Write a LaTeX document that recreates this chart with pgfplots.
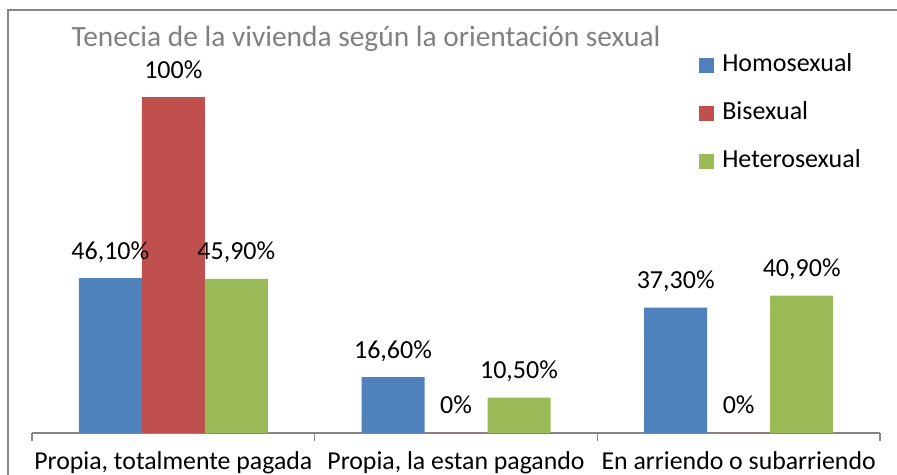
\documentclass[border=0pt]{standalone}
\usepackage{pgfplots}
\pgfplotsset{compat=1.18}
\usepackage{fontspec}
\setmainfont{Carlito}
\definecolor{cblue}{HTML}{4F81BD}
\definecolor{cred}{HTML}{C0504D}
\definecolor{cgreen}{HTML}{9BBB59}
\definecolor{frame}{HTML}{868686}
\definecolor{titlegray}{HTML}{808080}
\begin{document}
\begin{tikzpicture}[x=1bp,y=1bp]
\useasboundingbox (0,0) rectangle (897,475);
\draw[frame, line width=1.5bp] (8,-30) -- (8,465) -- (930,465);
\node[anchor=base, text=titlegray, font=\fontsize{29.4bp}{34bp}\selectfont, inner sep=0pt] at (366,428) {Tenecia de la vivienda según la orientación sexual};
\begin{axis}[
  at={(32bp,42bp)}, anchor=south west,
  scale only axis, width=848bp, height=403bp,
  xmin=-0.5, xmax=2.5, ymin=0, ymax=120,
  ybar=0pt, bar width=63bp,
  axis x line*=bottom, axis y line=none,
  x axis line style={draw=frame, line width=1.2bp, -},
  xtick={0,1,2},
  xticklabels={{Propia, totalmente pagada},{Propia, la estan pagando},{En arriendo o subarriendo}},
  major tick length=0pt,
  minor xtick={-0.5,0.5,1.5,2.5},
  minor tick length=8bp,
  tick align=outside,
  minor x tick style={draw=frame, line width=1.2bp},
  xticklabel style={anchor=base, yshift=-37bp, font=\fontsize{25.8bp}{30bp}\selectfont, inner sep=0pt},
  point meta=explicit symbolic,
  nodes near coords={\pgfplotspointmeta\%},
  nodes near coords style={anchor=base, yshift=19bp, font=\fontsize{26bp}{30bp}\selectfont, inner sep=0pt, text=black},
  clip=false,
  legend style={at={(0.7866,0.943)}, anchor=north west, draw=none, fill=none, inner sep=0pt,
    row sep=24bp, font=\fontsize{26bp}{30bp}\selectfont,
    nodes={inner sep=0pt, text height=18bp, text depth=6bp},
    /tikz/every odd column/.append style={column sep=8bp}},
  legend cell align=left,
  legend image code/.code={\fill[#1] (0bp,-7.5bp) rectangle (15bp,7.5bp);},
]
\addplot[fill=cblue, draw=none] table[x=x, y=y, meta=lab] {
x y lab
0 46.1 46,10
1 16.6 16,60
2 37.3 37,30
};
\addlegendentry{Homosexual}
\addplot[fill=cred, draw=none] table[x=x, y=y, meta=lab] {
x y lab
0 100 100
1 0 0
2 0 0
};
\addlegendentry{Bisexual}
\addplot[fill=cgreen, draw=none] table[x=x, y=y, meta=lab] {
x y lab
0 45.9 45,90
1 10.5 10,50
2 40.9 40,90
};
\addlegendentry{Heterosexual}
\end{axis}
\end{tikzpicture}
\end{document}
